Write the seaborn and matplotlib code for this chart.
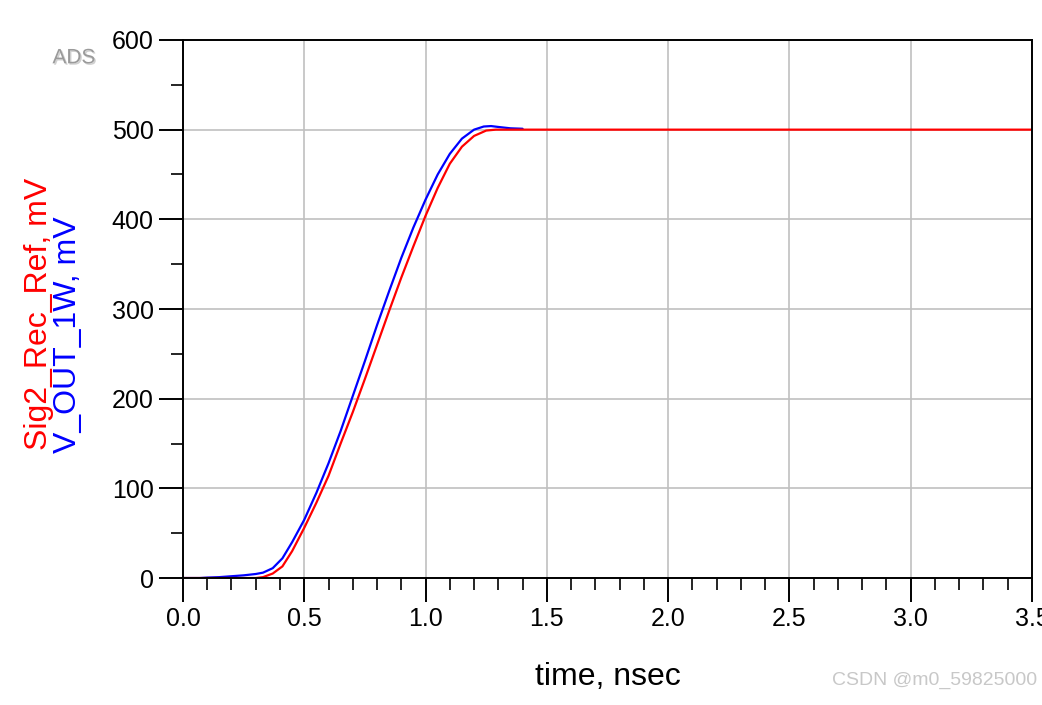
import numpy as np
import pandas as pd
import matplotlib as mpl
mpl.use("Agg")
import matplotlib.pyplot as plt
import matplotlib.patheffects as pe
import seaborn as sns

# time axis in nsec, voltages in mV
ref_time = [0.0, 0.30, 0.33, 0.37, 0.41, 0.45, 0.50, 0.55, 0.60, 0.65, 0.70,
            0.75, 0.80, 0.85, 0.90, 0.95, 1.00, 1.05, 1.10, 1.15, 1.20,
            1.25, 1.29, 1.40, 2.0, 3.0, 3.5]
ref_mv = [0, 0, 1, 5, 13, 30, 56, 84, 114, 150, 185,
          222, 260, 298, 335, 370, 404, 435, 462, 481, 493,
          499, 500, 500, 500, 500, 500]

out_time = [0.0, 0.07, 0.10, 0.15, 0.20, 0.25, 0.30, 0.33, 0.37, 0.41, 0.45, 0.50,
            0.55, 0.60, 0.65, 0.70, 0.75, 0.80, 0.85, 0.90, 0.95, 1.00, 1.05,
            1.10, 1.15, 1.20, 1.24, 1.27, 1.30, 1.35, 1.40]
out_mv = [0, 0, 0.5, 1, 2, 3, 4.5, 6, 11, 22, 40, 65,
          95, 128, 164, 203, 242, 282, 320, 357, 391, 422, 450,
          473, 490, 500, 503.5, 504, 503, 501.5, 501]

df_ref = pd.DataFrame({"time": ref_time, "mV": ref_mv})
df_out = pd.DataFrame({"time": out_time, "mV": out_mv})

sns.set_style("white")
plt.rcParams["font.family"] = ["Liberation Sans", "DejaVu Sans"]
plt.rcParams["text.color"] = "black"
plt.rcParams["xtick.color"] = "black"
plt.rcParams["ytick.color"] = "black"

fig = plt.figure(figsize=(10.42, 7.05), dpi=100)
ax = fig.add_axes([0.1756, 0.1801, 0.8148, 0.7632])

# blue drawn first so red sits on top like in ADS
sns.lineplot(data=df_out, x="time", y="mV", color="#0000ff", lw=1.6, ax=ax)
sns.lineplot(data=df_ref, x="time", y="mV", color="#ff0000", lw=1.6, ax=ax)

ax.set_xlim(0, 3.5)
ax.set_ylim(0, 600)
ax.set_xticks(np.arange(0, 3.51, 0.5))
ax.set_xticklabels([f"{v:.1f}" for v in np.arange(0, 3.51, 0.5)])
ax.set_yticks(np.arange(0, 601, 100))
ax.set_xticks(np.arange(0, 3.51, 0.1), minor=True)
ax.set_yticks(np.arange(0, 601, 50), minor=True)

ax.grid(True, which="major", color="#c0c0c0", lw=1.2)
ax.set_axisbelow(True)
for s in ax.spines.values():
    s.set_color("black")
    s.set_linewidth(1.4)

ax.tick_params(which="major", direction="out", length=17, width=1.4,
               labelsize=18, pad=4, bottom=True, left=True, colors="black")
ax.tick_params(which="minor", direction="out", length=8.5, width=1.2,
               bottom=True, left=True, colors="black")

ax.set_xlabel("time, nsec", fontsize=23, labelpad=22, color="black")
ax.set_ylabel("")

fig.text(0.037, 0.362, "Sig2_Rec_Ref, mV", color="#ff0000", fontsize=23,
         rotation=90, ha="center", va="bottom")
fig.text(0.065, 0.358, "V_OUT_1W, mV", color="#0000ff", fontsize=23,
         rotation=90, ha="center", va="bottom")

fig.text(0.071, 0.918, "ADS", color="#9a9a9a", fontsize=15, ha="center",
         va="center",
         path_effects=[pe.withSimplePatchShadow(offset=(1, -1), shadow_rgbFace="#d0d0d0", alpha=1)])
fig.text(0.995, 0.022, "CSDN @m0_59825000", color="#c8c8c8", fontsize=14,
         ha="right", va="bottom")

fig.savefig("out.png", dpi=100)
